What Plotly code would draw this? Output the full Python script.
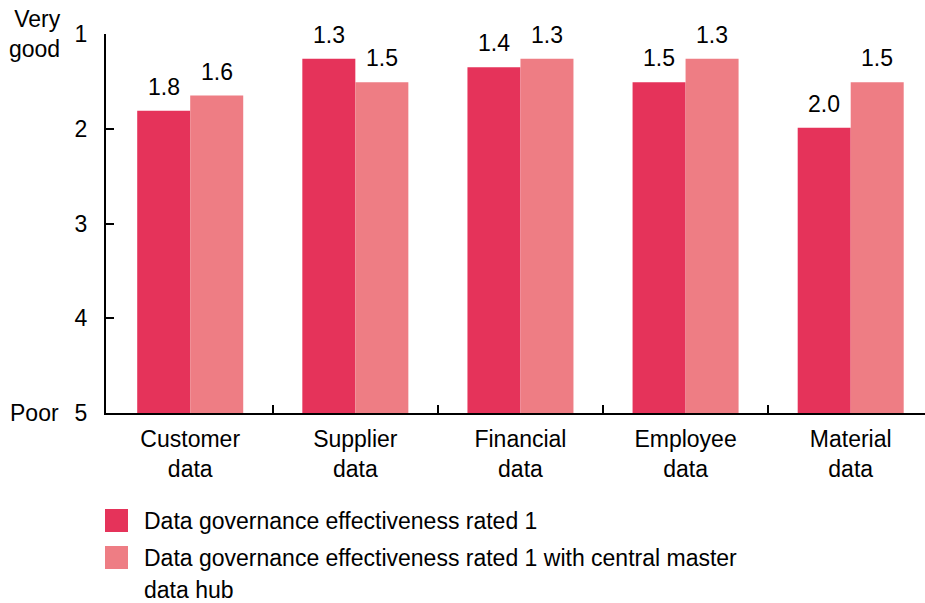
import plotly.graph_objects as go

categories = ["Customer<br>data", "Supplier<br>data", "Financial<br>data", "Employee<br>data", "Material<br>data"]
rated1 = [1.81, 1.26, 1.35, 1.51, 1.99]
rated1_hub = [1.65, 1.51, 1.26, 1.26, 1.51]
rated1_labels = ["1.8", "1.3", "1.4", "1.5", "2.0"]
rated1_hub_labels = ["1.6", "1.5", "1.3", "1.3", "1.5"]
series_names = ["Data governance effectiveness rated 1",
                "Data governance effectiveness rated 1 with central master"]
series_name_cont = "data hub"
y_ticks = [1, 2, 3, 4, 5]
BASE = 5

C1 = "#E5335A"
C2 = "#EE7D84"
FONT = "Liberation Sans, Arial, Helvetica, sans-serif"
FS = 23

fig = go.Figure()
xs = list(range(len(categories)))
fig.add_trace(go.Bar(x=xs, y=[v - BASE for v in rated1], base=BASE,
                     marker=dict(color=C1, line=dict(width=0)), name=series_names[0]))
fig.add_trace(go.Bar(x=xs, y=[v - BASE for v in rated1_hub], base=BASE,
                     marker=dict(color=C2, line=dict(width=0)), name=series_names[1]))

ann = []
for i in xs:
    ann.append(dict(x=i, y=rated1[i], xref="x", yref="y", text=rated1_labels[i],
                    xshift=-26.5, yshift=9, yanchor="bottom", xanchor="center",
                    showarrow=False, font=dict(size=FS, color="#000", family=FONT)))
    ann.append(dict(x=i, y=rated1_hub[i], xref="x", yref="y", text=rated1_hub_labels[i],
                    xshift=26.5, yshift=9, yanchor="bottom", xanchor="center",
                    showarrow=False, font=dict(size=FS, color="#000", family=FONT)))

# axis end labels
ann.append(dict(x=-0.053, y=1, xref="paper", yref="y", text="Very<br>good", align="right",
                xanchor="right", yanchor="middle", showarrow=False,
                font=dict(size=FS, color="#000", family=FONT)))
ann.append(dict(x=-0.055, y=5, xref="paper", yref="y", text="Poor",
                xanchor="right", yanchor="middle", showarrow=False,
                font=dict(size=FS, color="#000", family=FONT)))

# legend (pixel positions -> paper coords)
H = 379.0
def py(p):
    return (413 - p) / H
def px(p):
    return (p - 106) / 819.0

shapes = []
for (y0, y1), col in zip([(509, 532), (546, 569)], [C1, C2]):
    shapes.append(dict(type="rect", xref="paper", yref="paper", x0=px(105), x1=px(128),
                       y0=py(y1), y1=py(y0), fillcolor=col, line=dict(width=0)))
for text, yc in [(series_names[0], 521), (series_names[1], 558), (series_name_cont, 590)]:
    ann.append(dict(x=px(142), y=py(yc), xref="paper", yref="paper", text=text,
                    xanchor="left", yanchor="middle", showarrow=False,
                    font=dict(size=FS, color="#000", family=FONT)))

fig.update_layout(
    width=925, height=603,
    margin=dict(l=106, r=0, t=34, b=190),
    paper_bgcolor="white", plot_bgcolor="white",
    barmode="group", bargap=0.358, bargroupgap=0,
    showlegend=False,
    font=dict(family=FONT, size=FS, color="#000"),
    annotations=ann, shapes=shapes,
    xaxis=dict(range=[-0.51, 4.45], tickmode="array", tickvals=xs, ticktext=categories,
               showline=True, linecolor="#000", linewidth=2, ticks="", showgrid=False,
               zeroline=False, ticklabelstandoff=4,
               tickfont=dict(size=FS, family=FONT, color="#000"),
               minor=dict(tickmode="array", tickvals=[0.5, 1.5, 2.5, 3.5], ticks="inside",
                          ticklen=8, tickcolor="#000", tickwidth=2, showgrid=False)),
    yaxis=dict(range=[5, 1], tickmode="array", tickvals=y_ticks,
               showline=True, linecolor="#000", linewidth=2, ticks="inside", ticklen=8,
               tickcolor="#000", tickwidth=2, showgrid=False, zeroline=False,
               ticklabelstandoff=12,
               tickfont=dict(size=FS, family=FONT, color="#000")),
)

fig.write_html("out.html", config={"displayModeBar": False},
               post_script="document.body.style.margin='0';document.body.style.overflow='hidden';")
